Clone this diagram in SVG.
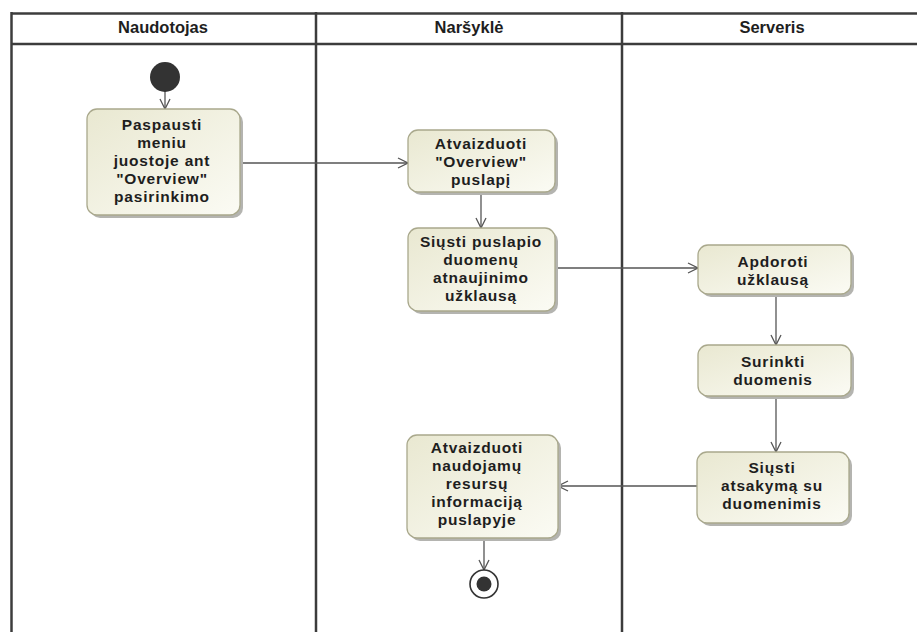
<svg xmlns="http://www.w3.org/2000/svg" width="917" height="632" viewBox="0 0 917 632">
  <style>
    .lane { fill: none; stroke: #3c3c3c; stroke-width: 2.5; }
    .hdr { font-family: "Liberation Sans", Arial, sans-serif; font-weight: bold; font-size: 16.5px; fill: #1e1e1e; text-anchor: middle; }
    .act { fill: url(#actFill); stroke: #a9a88c; stroke-width: 1.3; }
    .shadow { fill: #b4b4b0; }
    .lbl { font-family: "Liberation Sans", Arial, sans-serif; font-weight: bold; font-size: 15.5px; letter-spacing: 0.8px; fill: #1e1e1e; text-anchor: middle; }
    .flow { fill: none; stroke: #555; stroke-width: 1.3; marker-end: url(#open); }
  </style>
  <defs>
    <linearGradient id="actFill" x1="0" y1="0" x2="1" y2="1">
      <stop offset="0" stop-color="#e9e8d1"/>
      <stop offset="1" stop-color="#fbfbf4"/>
    </linearGradient>
    <marker id="open" viewBox="0 0 12 12" refX="11" refY="6" markerWidth="12" markerHeight="12" markerUnits="userSpaceOnUse" orient="auto">
      <path d="M1,1 L11,6 L1,11" fill="none" stroke="#555" stroke-width="1.3"/>
    </marker>
  </defs>

  <rect width="917" height="632" fill="#ffffff"/>

  <!-- swimlane frame -->
  <g id="lanes">
    <line class="lane" x1="11" y1="13.5" x2="917" y2="13.5"/>
    <line class="lane" x1="11" y1="44" x2="917" y2="44" stroke-width="2"/>
    <line class="lane" x1="11.5" y1="12" x2="11.5" y2="632"/>
    <line class="lane" x1="316" y1="12" x2="316" y2="632" stroke-width="3"/>
    <line class="lane" x1="622" y1="12" x2="622" y2="632" stroke-width="3"/>
    <text class="hdr" x="163" y="33">Naudotojas</text>
    <text class="hdr" x="469" y="33">Naršyklė</text>
    <text class="hdr" x="772" y="33">Serveris</text>
  </g>

  <!-- control flows -->
  <g id="connectors">
    <line class="flow" x1="165" y1="91" x2="165" y2="109"/>
    <line class="flow" x1="241" y1="163" x2="408" y2="163"/>
    <line class="flow" x1="481" y1="194" x2="481" y2="228"/>
    <line class="flow" x1="557" y1="268" x2="698" y2="268"/>
    <line class="flow" x1="776" y1="295" x2="776" y2="345"/>
    <line class="flow" x1="776" y1="398" x2="776" y2="452"/>
    <line class="flow" x1="697" y1="486" x2="558" y2="486"/>
    <line class="flow" x1="484" y1="540" x2="484" y2="570"/>
  </g>

  <!-- initial node -->
  <g id="start">
    <circle cx="165" cy="77" r="15" fill="#333333"/>
  </g>

  <g id="paspausti">
    <rect class="shadow" x="90" y="112" width="153" height="106" rx="10"/>
    <rect class="act" x="87" y="109" width="153" height="106" rx="10"/>
    <text class="lbl" x="162" y="130">Paspausti</text>
    <text class="lbl" x="162" y="148">meniu</text>
    <text class="lbl" x="162" y="166">juostoje  ant</text>
    <text class="lbl" x="162" y="184">"Overview"</text>
    <text class="lbl" x="162" y="202">pasirinkimo</text>
  </g>

  <g id="atvaizduoti-overview">
    <rect class="shadow" x="411" y="133" width="147" height="62" rx="10"/>
    <rect class="act" x="408" y="130" width="147" height="62" rx="10"/>
    <text class="lbl" x="481" y="149">Atvaizduoti</text>
    <text class="lbl" x="481" y="167">"Overview"</text>
    <text class="lbl" x="481" y="185">puslapį</text>
  </g>

  <g id="siusti-uzklausa">
    <rect class="shadow" x="411" y="231" width="147" height="83" rx="10"/>
    <rect class="act" x="408" y="228" width="147" height="83" rx="10"/>
    <text class="lbl" x="481" y="247">Siųsti puslapio</text>
    <text class="lbl" x="481" y="265">duomenų</text>
    <text class="lbl" x="481" y="283">atnaujinimo</text>
    <text class="lbl" x="481" y="301">užklausą</text>
  </g>

  <g id="apdoroti">
    <rect class="shadow" x="701" y="248" width="153" height="49" rx="10"/>
    <rect class="act" x="698" y="245" width="153" height="49" rx="10"/>
    <text class="lbl" x="773" y="267">Apdoroti</text>
    <text class="lbl" x="773" y="285">užklausą</text>
  </g>

  <g id="surinkti">
    <rect class="shadow" x="701" y="348" width="153" height="51" rx="10"/>
    <rect class="act" x="698" y="345" width="153" height="51" rx="10"/>
    <text class="lbl" x="773" y="367">Surinkti</text>
    <text class="lbl" x="773" y="385">duomenis</text>
  </g>

  <g id="siusti-atsakyma">
    <rect class="shadow" x="700" y="455" width="152" height="71" rx="10"/>
    <rect class="act" x="697" y="452" width="152" height="71" rx="10"/>
    <text class="lbl" x="772" y="473">Siųsti</text>
    <text class="lbl" x="772" y="491">atsakymą su</text>
    <text class="lbl" x="772" y="509">duomenimis</text>
  </g>

  <g id="atvaizduoti-resursus">
    <rect class="shadow" x="410" y="438" width="151" height="103" rx="10"/>
    <rect class="act" x="407" y="435" width="151" height="103" rx="10"/>
    <text class="lbl" x="477" y="453">Atvaizduoti</text>
    <text class="lbl" x="477" y="471">naudojamų</text>
    <text class="lbl" x="477" y="489">resursų</text>
    <text class="lbl" x="477" y="507">informaciją</text>
    <text class="lbl" x="477" y="525">puslapyje</text>
  </g>

  <!-- final node -->
  <g id="end">
    <circle cx="484" cy="584" r="14" fill="#ffffff" stroke="#333333" stroke-width="1.6"/>
    <circle cx="484" cy="584" r="7.5" fill="#333333"/>
  </g>
</svg>
